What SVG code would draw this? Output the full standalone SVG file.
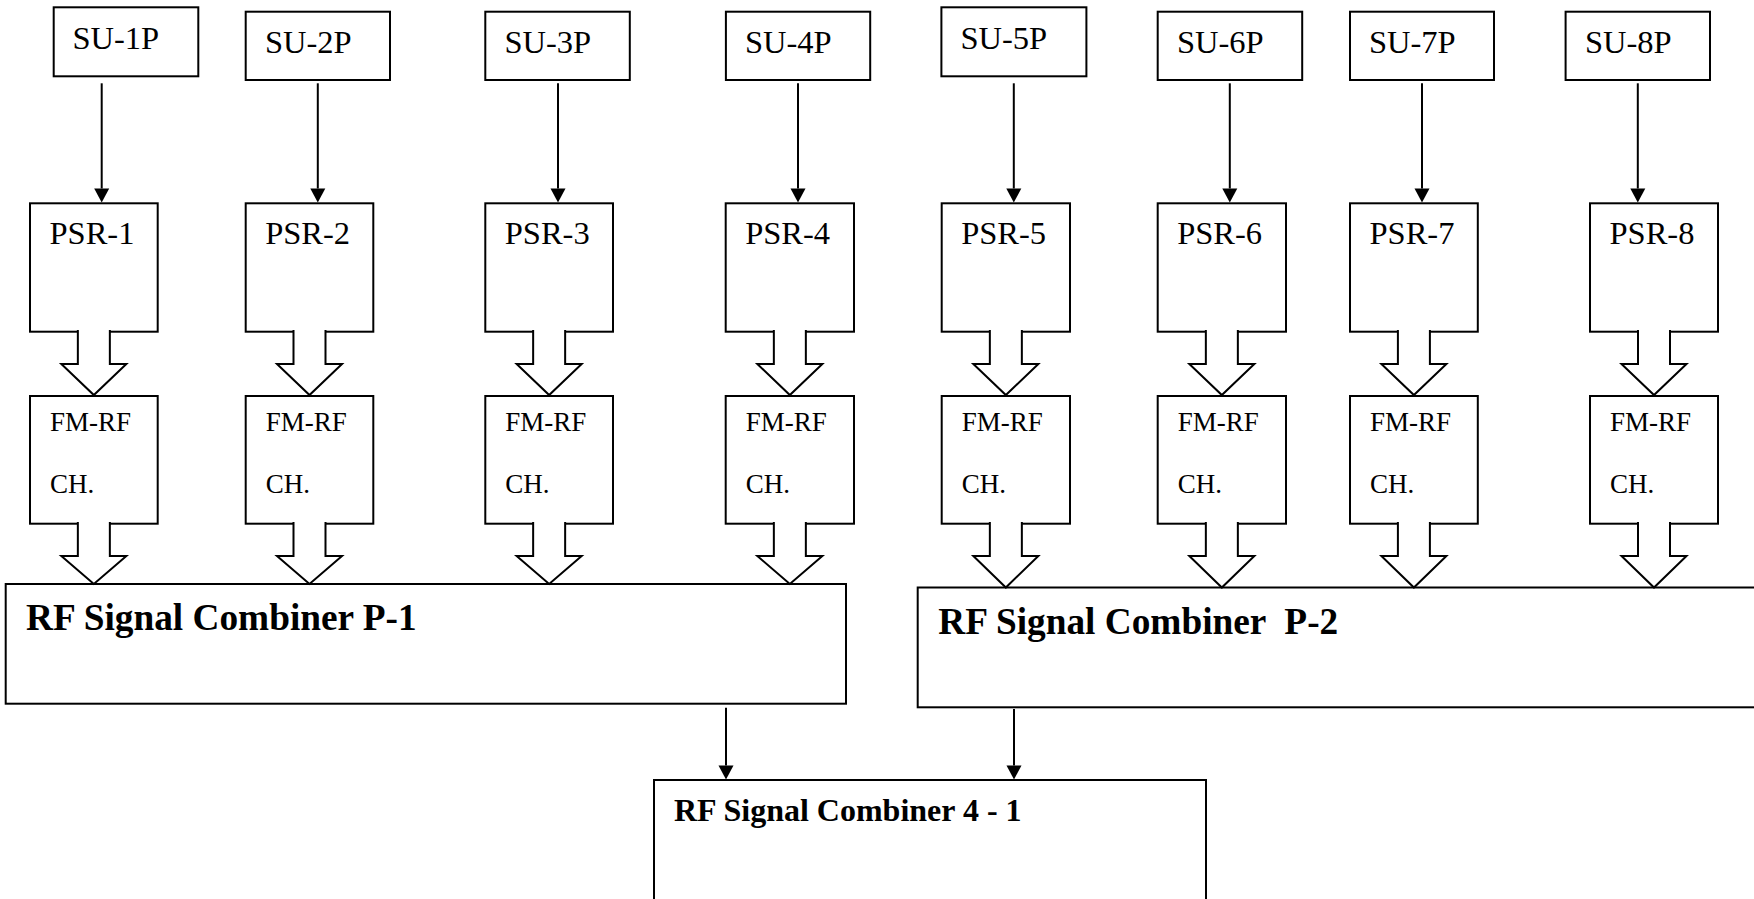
<svg xmlns="http://www.w3.org/2000/svg" width="1754" height="899" viewBox="0 0 1754 899">
<style>
.box{fill:#fff;stroke:#000;stroke-width:2}
.t{font-family:"Liberation Serif","Times New Roman",serif;font-size:32.5px;fill:#000}
.fm{font-family:"Liberation Serif","Times New Roman",serif;font-size:27px;fill:#000}
.b{font-family:"Liberation Serif","Times New Roman",serif;font-weight:bold;fill:#000;white-space:pre}
.ln{stroke:#000;stroke-width:2;fill:none}
.blk{fill:#fff;stroke:#000;stroke-width:2;stroke-linejoin:miter}
</style>
<defs>
<marker id="ah" markerUnits="userSpaceOnUse" markerWidth="15" markerHeight="16" refX="0" refY="7.5" orient="auto" overflow="visible">
<path d="M0,0 L14,7.5 L0,15 Z" fill="#000"/>
</marker>
</defs>
<rect width="1754" height="899" fill="#fff"/>

<g id="su-1p"><rect class="box" x="53.7" y="7.3" width="144.6" height="69"/><text class="t" x="72.5" y="49.3">SU-1P</text></g>
<g id="su-2p"><rect class="box" x="245.7" y="11.7" width="144.3" height="68.3"/><text class="t" x="265" y="53.3">SU-2P</text></g>
<g id="su-3p"><rect class="box" x="485.3" y="11.7" width="144.5" height="68.3"/><text class="t" x="504.5" y="53.3">SU-3P</text></g>
<g id="su-4p"><rect class="box" x="725.9" y="11.7" width="144.3" height="68.3"/><text class="t" x="745" y="53.3">SU-4P</text></g>
<g id="su-5p"><rect class="box" x="941.4" y="7.3" width="145" height="69"/><text class="t" x="960.5" y="49.3">SU-5P</text></g>
<g id="su-6p"><rect class="box" x="1157.7" y="11.7" width="144.5" height="68.3"/><text class="t" x="1177" y="53.3">SU-6P</text></g>
<g id="su-7p"><rect class="box" x="1350" y="11.7" width="144" height="68.3"/><text class="t" x="1369" y="53.3">SU-7P</text></g>
<g id="su-8p"><rect class="box" x="1565.6" y="11.7" width="144.4" height="68.3"/><text class="t" x="1585" y="53.3">SU-8P</text></g>

<g id="psr-1"><rect class="box" x="30" y="203.3" width="127.7" height="128.4"/><text class="t" x="49.5" y="244.3">PSR-1</text></g>
<g id="psr-2"><rect class="box" x="245.7" y="203.3" width="127.6" height="128.4"/><text class="t" x="265.2" y="244.3">PSR-2</text></g>
<g id="psr-3"><rect class="box" x="485.3" y="203.3" width="127.7" height="128.4"/><text class="t" x="504.8" y="244.3">PSR-3</text></g>
<g id="psr-4"><rect class="box" x="725.7" y="203.3" width="128.3" height="128.4"/><text class="t" x="745.2" y="244.3">PSR-4</text></g>
<g id="psr-5"><rect class="box" x="941.7" y="203.3" width="128.3" height="128.4"/><text class="t" x="961.2" y="244.3">PSR-5</text></g>
<g id="psr-6"><rect class="box" x="1157.7" y="203.3" width="128.3" height="128.4"/><text class="t" x="1177.2" y="244.3">PSR-6</text></g>
<g id="psr-7"><rect class="box" x="1350" y="203.3" width="127.8" height="128.4"/><text class="t" x="1369.5" y="244.3">PSR-7</text></g>
<g id="psr-8"><rect class="box" x="1590" y="203.3" width="128" height="128.4"/><text class="t" x="1609.5" y="244.3">PSR-8</text></g>

<g id="fm-1"><rect class="box" x="30" y="396" width="127.7" height="127.7"/><text class="fm" x="50" y="431">FM-RF</text><text class="fm" x="50" y="492.7">CH.</text></g>
<g id="fm-2"><rect class="box" x="245.7" y="396" width="127.6" height="127.7"/><text class="fm" x="265.7" y="431">FM-RF</text><text class="fm" x="265.7" y="492.7">CH.</text></g>
<g id="fm-3"><rect class="box" x="485.3" y="396" width="127.7" height="127.7"/><text class="fm" x="505.3" y="431">FM-RF</text><text class="fm" x="505.3" y="492.7">CH.</text></g>
<g id="fm-4"><rect class="box" x="725.7" y="396" width="128.3" height="127.7"/><text class="fm" x="745.7" y="431">FM-RF</text><text class="fm" x="745.7" y="492.7">CH.</text></g>
<g id="fm-5"><rect class="box" x="941.7" y="396" width="128.3" height="127.7"/><text class="fm" x="961.7" y="431">FM-RF</text><text class="fm" x="961.7" y="492.7">CH.</text></g>
<g id="fm-6"><rect class="box" x="1157.7" y="396" width="128.3" height="127.7"/><text class="fm" x="1177.7" y="431">FM-RF</text><text class="fm" x="1177.7" y="492.7">CH.</text></g>
<g id="fm-7"><rect class="box" x="1350" y="396" width="127.8" height="127.7"/><text class="fm" x="1370" y="431">FM-RF</text><text class="fm" x="1370" y="492.7">CH.</text></g>
<g id="fm-8"><rect class="box" x="1590" y="396" width="128" height="127.7"/><text class="fm" x="1610" y="431">FM-RF</text><text class="fm" x="1610" y="492.7">CH.</text></g>

<g id="combiner-p1"><rect class="box" x="5.7" y="584" width="840.3" height="119.7"/><text class="b" x="26" y="630" font-size="37.3">RF Signal Combiner P-1</text></g>
<g id="combiner-p2"><rect class="box" x="917.7" y="587.5" width="850" height="119.8"/><text class="b" x="938.3" y="634" font-size="37.3" xml:space="preserve">RF Signal Combiner  P-2</text></g>
<g id="combiner-41"><rect class="box" x="654" y="780" width="552" height="200"/><text class="b" x="674" y="821" font-size="32">RF Signal Combiner 4 - 1</text></g>

<g id="connectors">
<line class="ln" x1="101.7" y1="83.3" x2="101.7" y2="188.5" marker-end="url(#ah)"/>
<line class="ln" x1="317.8" y1="83.3" x2="317.8" y2="188.5" marker-end="url(#ah)"/>
<line class="ln" x1="558" y1="83.3" x2="558" y2="188.5" marker-end="url(#ah)"/>
<line class="ln" x1="798" y1="83.3" x2="798" y2="188.5" marker-end="url(#ah)"/>
<line class="ln" x1="1013.8" y1="83.3" x2="1013.8" y2="188.5" marker-end="url(#ah)"/>
<line class="ln" x1="1229.8" y1="83.3" x2="1229.8" y2="188.5" marker-end="url(#ah)"/>
<line class="ln" x1="1422" y1="83.3" x2="1422" y2="188.5" marker-end="url(#ah)"/>
<line class="ln" x1="1637.8" y1="83.3" x2="1637.8" y2="188.5" marker-end="url(#ah)"/>

<path class="blk" d="M77.85,330 V364 H61.35 L93.85,395 L126.35,364 H109.85 V330"/>
<path class="blk" d="M293.5,330 V364 H277 L309.5,395 L342,364 H325.5 V330"/>
<path class="blk" d="M533.15,330 V364 H516.65 L549.15,395 L581.65,364 H565.15 V330"/>
<path class="blk" d="M773.85,330 V364 H757.35 L789.85,395 L822.35,364 H805.85 V330"/>
<path class="blk" d="M989.85,330 V364 H973.35 L1005.85,395 L1038.35,364 H1021.85 V330"/>
<path class="blk" d="M1205.85,330 V364 H1189.35 L1221.85,395 L1254.35,364 H1237.85 V330"/>
<path class="blk" d="M1397.9,330 V364 H1381.4 L1413.9,395 L1446.4,364 H1429.9 V330"/>
<path class="blk" d="M1638,330 V364 H1621.5 L1654,395 L1686.5,364 H1670 V330"/>

<path class="blk" d="M77.85,522 V556 H61.35 L93.85,584 L126.35,556 H109.85 V522"/>
<path class="blk" d="M293.5,522 V556 H277 L309.5,584 L342,556 H325.5 V522"/>
<path class="blk" d="M533.15,522 V556 H516.65 L549.15,584 L581.65,556 H565.15 V522"/>
<path class="blk" d="M773.85,522 V556 H757.35 L789.85,584 L822.35,556 H805.85 V522"/>
<path class="blk" d="M989.85,522 V556 H973.35 L1005.85,587.5 L1038.35,556 H1021.85 V522"/>
<path class="blk" d="M1205.85,522 V556 H1189.35 L1221.85,587.5 L1254.35,556 H1237.85 V522"/>
<path class="blk" d="M1397.9,522 V556 H1381.4 L1413.9,587.5 L1446.4,556 H1429.9 V522"/>
<path class="blk" d="M1638,522 V556 H1621.5 L1654,587.5 L1686.5,556 H1670 V522"/>

<line class="ln" x1="726" y1="707.7" x2="726" y2="765.5" marker-end="url(#ah)"/>
<line class="ln" x1="1014" y1="709" x2="1014" y2="765.5" marker-end="url(#ah)"/>
</g>
</svg>
